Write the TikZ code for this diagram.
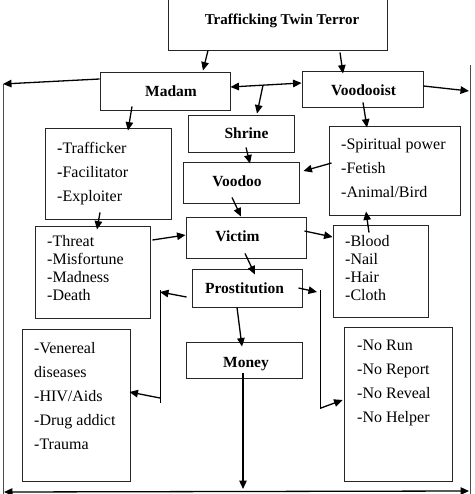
\documentclass[tikz,border=0pt]{standalone}
\usepackage{fontspec}
\setmainfont{Liberation Serif}
\usetikzlibrary{arrows.meta,calc}
\begin{document}
\begin{tikzpicture}[x=1pt,y=-1pt,
  box/.style={draw=black!85,line width=0.9pt,inner sep=0pt,rectangle},
  arr/.style={line width=1.3pt,-{Triangle[length=8.5pt,width=7.5pt]}},
  darr/.style={line width=1.3pt,{Triangle[length=8.5pt,width=7.5pt]}-{Triangle[length=8.5pt,width=7.5pt]}},
  ln/.style={line width=1pt},
  lbl/.style={font=\fontsize{15.5}{18}\selectfont\bfseries,anchor=base,inner sep=0pt},
  lst/.style={font=\fontsize{16}{24}\selectfont,anchor=north west,inner sep=0pt,align=left},
  lsts/.style={font=\fontsize{16}{18}\selectfont,anchor=north west,inner sep=0pt,align=left}]
\useasboundingbox (0,0) rectangle (474,494);
% boxes
\node[box,minimum width=219pt,minimum height=52pt] (title) at (277.5,24) {};
\node[box,minimum width=130pt,minimum height=38pt] (madam) at (165,91) {};
\node[box,minimum width=121pt,minimum height=36pt] (vdist) at (362.5,89) {};
\node[box,minimum width=106pt,minimum height=37pt] (shrine) at (241,133.5) {};
\node[box,minimum width=116pt,minimum height=41pt] (voodoo) at (241,182.5) {};
\node[box,minimum width=120pt,minimum height=41pt] (victim) at (246,237.5) {};
\node[box,minimum width=110pt,minimum height=38pt] (prost) at (247,288) {};
\node[box,minimum width=116pt,minimum height=36pt] (money) at (244,360) {};
\node[box,minimum width=126pt,minimum height=91pt] (traff) at (108,173.5) {};
\node[box,minimum width=131pt,minimum height=89pt] (spirit) at (394.5,170.5) {};
\node[box,minimum width=115pt,minimum height=92pt] (threat) at (92.5,272) {};
\node[box,minimum width=95pt,minimum height=92pt] (blood) at (380.5,271) {};
\node[box,minimum width=108pt,minimum height=152pt] (vener) at (76,405) {};
\node[box,minimum width=108pt,minimum height=154pt] (norun) at (398,404) {};
% labels
\node[lbl,font=\fontsize{15}{18}\selectfont\bfseries] (titleT) at (282,25) {Trafficking Twin Terror};
\node[lbl] (madamT) at (171,97) {Madam};
\node[lbl] (vdistT) at (363.5,95.5) {Voodooist};
\node[lbl] (shrineT) at (246.5,139) {Shrine};
\node[lbl] (voodooT) at (237,186.5) {Voodoo};
\node[lbl] (victimT) at (237.5,241.5) {Victim};
\node[lbl] (prostT) at (244.5,293) {Prostitution};
\node[lbl] (moneyT) at (246,367) {Money};
% lists
\node[lst] (traffT) at (57,136.2) {\strut\textbf{-}Trafficker\\\strut\textbf{-}Facilitator\\\strut-Exploiter};
\node[lst] (spiritT) at (341,132.7) {\strut-Spiritual power\\\strut-Fetish\\\strut-Animal/Bird};
\node[lsts] (threatT) at (47,234.1) {\strut-Threat\\\strut-Misfortune\\\strut-Madness\\\strut-Death};
\node[lsts] (bloodT) at (345,233.4) {\strut-Blood\\\strut-Nail\\\strut-Hair\\\strut-Cloth};
\node[lst] (venerT) at (34,336.5) {\strut-Venereal\\\strut diseases\\\strut-HIV/Aids\\\strut-Drug addict\\\strut-Trauma};
\node[lst] (norunT) at (357,333.9) {\strut-No Run\\\strut-No Report\\\strut-No Reveal\\\strut-No Helper};
% free coordinates
\coordinate (lft) at (3,84);
\coordinate (lfb) at (3,494);
\coordinate (rtt) at (470,65);
\coordinate (rtb) at (470,494);
\coordinate (rta) at (469,91);
\coordinate (jn) at (263,85.2);
\coordinate (pl) at (160,292);
\coordinate (plt) at (160,290);
\coordinate (plb) at (160,403);
\coordinate (pla) at (160,398);
\coordinate (pr) at (317,292);
\coordinate (prt) at (320,290);
\coordinate (prb) at (320,409);
\coordinate (pra) at (321,408);
\coordinate (bm) at (243,489);
\coordinate (bl) at (4,492);
\coordinate (br) at (469,491);
% side lines
\draw[ln,black!70] (lft) -- (lfb);
\draw[ln,black!70] (rtt) -- (rtb);
% connectors
\draw[arr] ($(title.south)+(-69.5,0)$) -- ($(madam.north)+(38,-1)$);
\draw[arr] ($(title.south)+(62.5,2)$) -- ($(vdist.north)+(-19.5,3)$);
\draw[arr] ($(madam.west)+(0,-12)$) -- (lft);
\draw[arr] ($(vdist.east)+(0,-3)$) -- (rta);
\draw[darr] ($(madam.east)+(0,-4)$) -- ($(vdist.west)+(0,-6)$);
\draw[arr] (jn) -- ($(shrine.north)+(16,-1)$);
\draw[arr] ($(madam.south)+(-33,-4)$) -- ($(traff.north)+(20,3)$);
\draw[arr] ($(vdist.south)+(0.5,-5)$) -- ($(spirit.north)+(-27.5,2)$);
\draw[arr] ($(shrine.south)+(5,-5)$) -- ($(voodoo.north)+(9,2)$);
\draw[arr] ($(spirit.west)+(3,-7.5)$) -- ($(voodoo.east)+(4,-11.5)$);
\draw[arr] ($(voodoo.south)+(-9,-6)$) -- ($(victim.north)+(-5,0)$);
\draw[arr] ($(traff.south)+(-8,-7)$) -- ($(threat.north)+(4.5,4)$);
\draw[arr] ($(threat.east)+(2,-32)$) -- ($(victim.west)+(0,-2.5)$);
\draw[arr] ($(victim.east)+(-2,-6.5)$) -- ($(blood.west)+(0,-34)$);
\draw[arr] ($(blood.north)+(-11.5,8)$) -- ($(spirit.south)+(-28.5,-4)$);
\draw[arr] ($(victim.south)+(-1,-5)$) -- ($(prost.north)+(8,6)$);
\draw[arr] ($(prost.west)+(-5,9)$) -- (pl);
\draw[ln] (plt) -- (plb);
\draw[arr] (pla) -- ($(vener.east)+(-1,-13)$);
\draw[arr] ($(prost.east)+(-4,0)$) -- (pr);
\draw[ln] (prt) -- (prb);
\draw[arr] (pra) -- ($(norun.west)+(-1,-4)$);
\draw[arr] ($(prost.south)+(-10,0)$) -- ($(money.north)+(-2,5)$);
\draw[arr] ($(money.south)+(-1,-5)$) -- (bm);
\draw[darr] (bl) -- (br);
\end{tikzpicture}
\end{document}
